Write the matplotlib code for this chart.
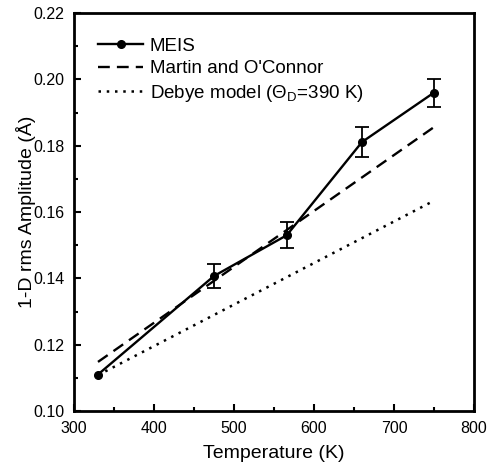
import numpy as np
import matplotlib.pyplot as plt
from matplotlib.ticker import MultipleLocator

plt.rcParams['font.family'] = ['Liberation Sans', 'DejaVu Sans']
plt.rcParams['mathtext.fontset'] = 'custom'
plt.rcParams['mathtext.rm'] = 'Liberation Sans'
plt.rcParams['mathtext.it'] = 'Liberation Sans:italic'

# MEIS data
temp = [330, 475, 566, 660, 750]
amp = [0.111, 0.1407, 0.153, 0.1811, 0.196]
err = [0.0, 0.0035, 0.004, 0.0045, 0.0042]

# model curves (straight lines)
martin_t = [330, 750]
martin_a = [0.1148, 0.1856]
debye_t = [330, 750]
debye_a = [0.1108, 0.1634]

fig = plt.figure(figsize=(4.89, 4.68), dpi=100)
ax = fig.add_axes([0.1513, 0.1218, 0.818, 0.8504])

ax.plot(temp, amp, color='black', marker='o', markersize=5.5, linewidth=1.7, label='MEIS')
ax.errorbar(temp[1:], amp[1:], yerr=err[1:], color='black', linestyle='none',
            capsize=5, elinewidth=1.3, capthick=1.3)
ax.plot(martin_t, martin_a, color='black', linestyle=(0, (5, 3)), linewidth=1.7,
        label="Martin and O'Connor")
ax.plot(debye_t, debye_a, color='black', linestyle=(0, (1, 2.3)), linewidth=1.8,
        label=r'Debye model ($\Theta_\mathrm{D}$=390 K)')

ax.set_xlim(300, 800)
ax.set_ylim(0.10, 0.22)
ax.xaxis.set_major_locator(MultipleLocator(100))
ax.xaxis.set_minor_locator(MultipleLocator(50))
ax.yaxis.set_major_locator(MultipleLocator(0.02))
ax.yaxis.set_minor_locator(MultipleLocator(0.01))
ax.yaxis.set_major_formatter(plt.FormatStrFormatter('%.2f'))
ax.tick_params(which='both', direction='in', top=False, right=False, labelsize=11.5, width=1.5)
ax.tick_params(which='major', length=5, pad=7)
ax.tick_params(which='minor', length=3)
for s in ax.spines.values():
    s.set_linewidth(2)

ax.set_xlabel('Temperature (K)', fontsize=14)
ax.set_ylabel('1-D rms Amplitude (Å)', fontsize=14)
ax.xaxis.set_label_coords(0.5, -0.085)
ax.yaxis.set_label_coords(-0.095, 0.5)

ax.legend(loc='upper left', frameon=False, fontsize=13.5, handlelength=2.4,
          borderaxespad=0.9, labelspacing=0.3, handletextpad=0.35)

fig.savefig('out.png', dpi=100)
